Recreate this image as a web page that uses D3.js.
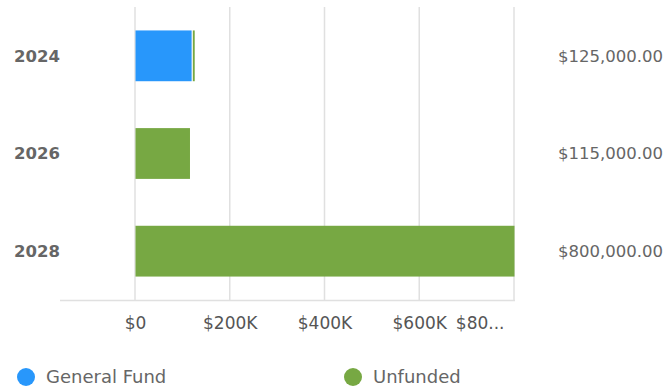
<!DOCTYPE html>
<html>
<head>
<meta charset="utf-8">
<script src="https://cdn.jsdelivr.net/npm/d3@7"></script>
<style>
  html, body { margin: 0; padding: 0; background: #fff; }
  svg { display: block; font-family: "DejaVu Sans", sans-serif; }
</style>
</head>
<body>
<svg id="chart" width="665" height="390"></svg>
<script>
// Funding by year, stacked per source
const years = ["2024", "2026", "2028"];
const seriesNames = ["General Fund", "Unfunded"];
const generalFund = [121000, 0, 0];
const unfunded = [4000, 115000, 800000];
const totals = [125000, 115000, 800000];
const xTicks = [0, 200000, 400000, 600000, 800000];
const xTickLabels = ["$0", "$200K", "$400K", "$600K", "$80..."];
const colors = ["#2897fb", "#77a843"];

const svg = d3.select("#chart");
const margin = { left: 135, right: 151, top: 7, bottom: 90 };
const W = 665, H = 390;
const plotW = W - margin.left - margin.right;
const plotH = H - margin.top - margin.bottom;

const x = d3.scaleLinear().domain([0, 800000]).range([margin.left, margin.left + plotW]);
const y = d3.scaleBand().domain(years).range([margin.top, margin.top + plotH]).paddingInner(0.48).paddingOuter(0.24);

const rows = years.map((yr, i) => ({ year: yr, "General Fund": generalFund[i], "Unfunded": unfunded[i] }));
const stacked = d3.stack().keys(seriesNames)(rows);

// vertical grid lines
svg.append("g").selectAll("line").data(xTicks).join("line")
  .attr("x1", d => x(d)).attr("x2", d => x(d))
  .attr("y1", margin.top).attr("y2", margin.top + plotH)
  .attr("stroke", "#e0e0e0").attr("stroke-width", 1.5);

// axis baseline
svg.append("line")
  .attr("x1", 60).attr("x2", x(800000) + 1)
  .attr("y1", margin.top + plotH + 0.5).attr("y2", margin.top + plotH + 0.5)
  .attr("stroke", "#e0e0e0").attr("stroke-width", 1.5);

// bars: a 1px white gap separates a segment from the one stacked after it
const gap = (d) => {
  const i = years.indexOf(d.data.year);
  return d[1] < totals[i] ? 1.2 : 0;
};
svg.append("g").selectAll("g").data(stacked).join("g")
  .attr("fill", (d, i) => colors[i])
  .selectAll("rect").data(d => d.filter(s => s[1] - s[0] > 0)).join("rect")
  .attr("x", d => x(d[0]) + 0.5)
  .attr("width", d => x(d[1]) - x(d[0]) - gap(d))
  .attr("y", d => y(d.data.year))
  .attr("height", y.bandwidth());

// x axis tick labels
const xAxis = d3.axisBottom(x).tickValues(xTicks).tickSize(0).tickPadding(17)
  .tickFormat((d, i) => xTickLabels[i]);
const gx = svg.append("g").attr("transform", `translate(0,${margin.top + plotH})`).call(xAxis);
gx.select(".domain").remove();
gx.selectAll("text").attr("font-size", 17).attr("fill", "#555")
  .attr("font-family", "DejaVu Sans, sans-serif");
gx.selectAll(".tick").filter(d => d === 800000).select("text")
  .attr("text-anchor", "end").attr("dx", -10);

// category labels
svg.append("g").selectAll("text").data(years).join("text")
  .attr("x", 14).attr("y", d => y(d) + y.bandwidth() / 2)
  .attr("dy", "0.36em")
  .attr("font-size", 16.5).attr("font-weight", "bold").attr("fill", "#666")
  .text(d => d);

// totals on the right
svg.append("g").selectAll("text").data(years).join("text")
  .attr("x", 663).attr("y", d => y(d) + y.bandwidth() / 2)
  .attr("dy", "0.36em").attr("text-anchor", "end")
  .attr("font-size", 16.5).attr("fill", "#666")
  .text((d, i) => d3.format("$,.2f")(totals[i]));

// legend
const legend = svg.append("g").selectAll("g").data(seriesNames).join("g")
  .attr("transform", (d, i) => `translate(${i === 0 ? 26 : 353},377)`);
legend.append("circle").attr("r", 9).attr("fill", (d, i) => colors[i]);
legend.append("text").attr("x", 20).attr("dy", "0.36em")
  .attr("font-size", 18).attr("fill", "#666").text(d => d);
</script>
</body>
</html>
